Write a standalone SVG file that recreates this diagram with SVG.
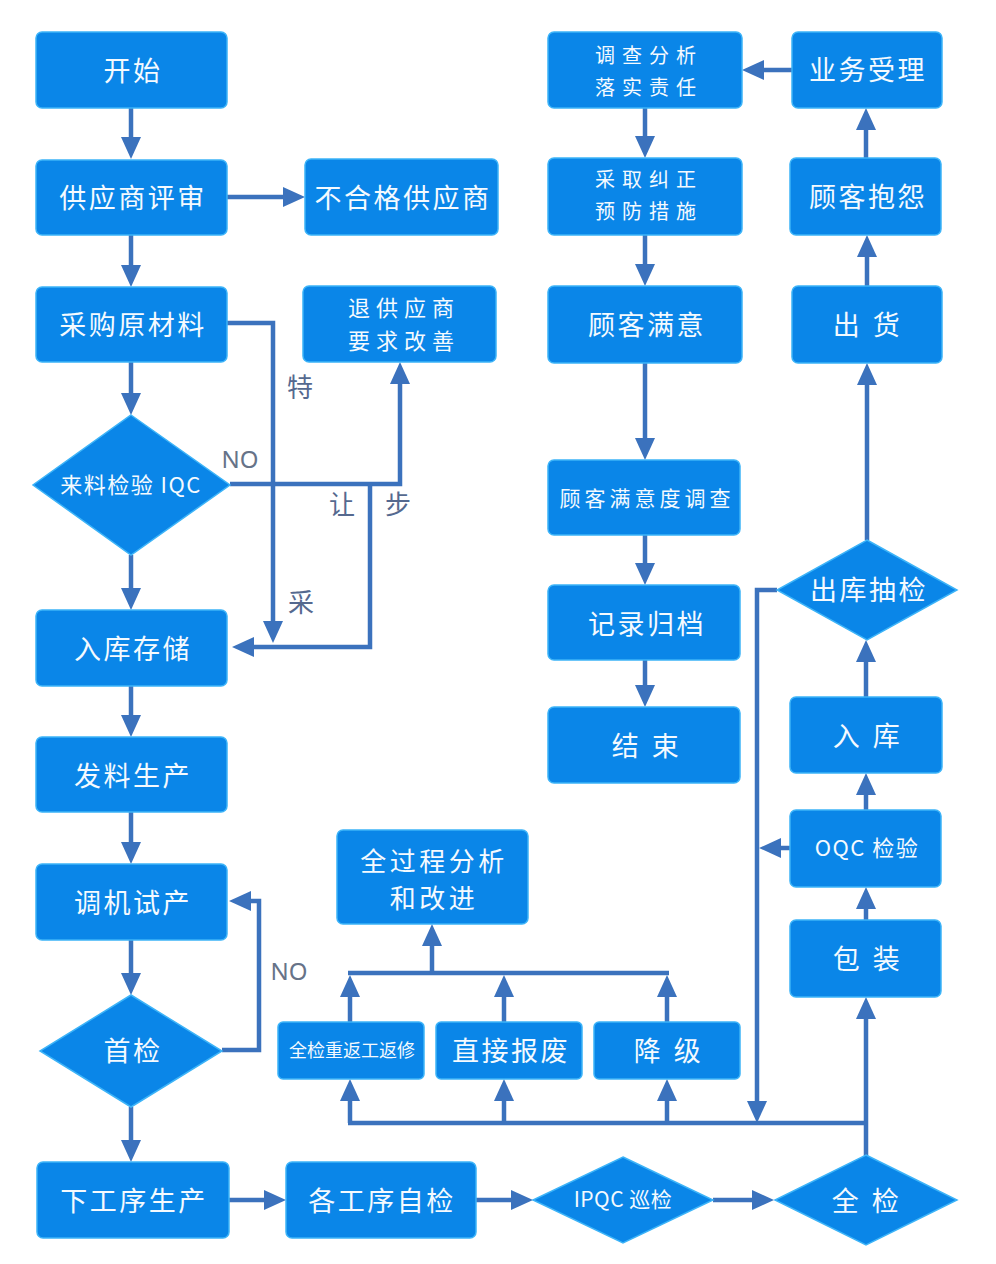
<svg xmlns="http://www.w3.org/2000/svg" width="996" height="1264" viewBox="0 0 996 1264">
<defs>
<marker id="ah" markerUnits="userSpaceOnUse" markerWidth="22" markerHeight="20" refX="10" refY="10" orient="auto">
<path d="M0,0 L22,10 L0,20 z" fill="#3b72bd"/>
</marker>
<style>
.box{fill:#0a86e8;stroke:#3db4f8;stroke-width:1.5}
.t{fill:#f4faff;font-family:"Noto Sans CJK SC","Noto Sans",sans-serif;text-anchor:middle;dominant-baseline:central}
.m{font-size:27px;letter-spacing:2.5px}
.sp{font-size:27px;letter-spacing:3.5px}
.two{font-size:20px;letter-spacing:7px}
.ln{fill:none;stroke:#3b72bd;stroke-width:4.5}
.ar{marker-end:url(#ah)}
.lab{fill:#55698f;font-family:"Noto Sans CJK SC","Noto Sans",sans-serif;font-size:26px;text-anchor:middle;dominant-baseline:central}
.no{fill:#667388;font-family:"Noto Sans","Noto Sans CJK SC",sans-serif;font-size:24px;text-anchor:middle;dominant-baseline:central}
</style>
</defs>
<rect width="996" height="1264" fill="#ffffff"/>

<g id="connectors">
<path class="ln ar" d="M131,108 V147"/>
<path class="ln ar" d="M227,197 H293"/>
<path class="ln ar" d="M131,235 V275"/>
<path class="ln ar" d="M131,362 V403"/>
<path class="ln ar" d="M131,555 V598"/>
<path class="ln ar" d="M131,686 V725"/>
<path class="ln ar" d="M131,812 V852"/>
<path class="ln ar" d="M131,940 V983"/>
<path class="ln ar" d="M131,1107 V1150"/>
<path class="ln ar" d="M222,1050 H259 V901 H241"/>
<path class="ln ar" d="M229,1200 H274"/>
<path class="ln ar" d="M476,1200 H521"/>
<path class="ln ar" d="M713,1200 H762"/>
<path class="ln ar" d="M866,1157 V1009"/>
<path class="ln ar" d="M866,920 V899"/>
<path class="ln ar" d="M866,810 V785"/>
<path class="ln ar" d="M866,697 V652"/>
<path class="ln ar" d="M867,540 V375"/>
<path class="ln ar" d="M867,286 V247"/>
<path class="ln ar" d="M866,158 V120"/>
<path class="ln ar" d="M792,70 H754"/>
<path class="ln ar" d="M645,108 V146"/>
<path class="ln ar" d="M645,235 V274"/>
<path class="ln ar" d="M645,363 V448"/>
<path class="ln ar" d="M645,535 V573"/>
<path class="ln ar" d="M645,660 V695"/>
<path class="ln ar" d="M777,590 H757 V1111"/>
<path class="ln ar" d="M790,848 H771"/>
<path class="ln" d="M866,1123 H348"/>
<path class="ln ar" d="M350,1123 V1091"/>
<path class="ln ar" d="M504,1123 V1091"/>
<path class="ln ar" d="M667,1123 V1091"/>
<path class="ln ar" d="M350,1022 V987"/>
<path class="ln ar" d="M504,1022 V987"/>
<path class="ln ar" d="M667,1022 V987"/>
<path class="ln" d="M348,973 H669"/>
<path class="ln ar" d="M432,973 V936"/>
<path class="ln ar" d="M227,323 H273 V631"/>
<path class="ln ar" d="M230,484 H400 V374"/>
<path class="ln ar" d="M370,484 V647 H244"/>
<text class="lab" x="300" y="385">特</text>
<text class="no" x="240" y="458">NO</text>
<text class="lab" x="342" y="502">让</text>
<text class="lab" x="398" y="502">步</text>
<text class="lab" x="301" y="600">采</text>
<text class="no" x="289" y="970">NO</text>
</g>

<g id="n-start"><rect class="box" x="36" y="32" width="191" height="76" rx="6"/><text class="t m" x="133" y="69">开始</text></g>
<g id="n-review"><rect class="box" x="36" y="160" width="191" height="75" rx="6"/><text class="t m" x="133" y="196">供应商评审</text></g>
<g id="n-unqualified"><rect class="box" x="305" y="159" width="193" height="76" rx="6"/><text class="t m" x="403" y="196">不合格供应商</text></g>
<g id="n-purchase"><rect class="box" x="36" y="287" width="191" height="75" rx="6"/><text class="t m" x="133" y="323">采购原材料</text></g>
<g id="n-return"><rect class="box" x="303" y="286" width="193" height="76" rx="6"/><text class="t" x="404" y="306" style="font-size:22px;letter-spacing:6px">退供应商</text><text class="t" x="404" y="339" style="font-size:22px;letter-spacing:6px">要求改善</text></g>
<g id="n-iqc"><polygon class="box" points="131,415 230,485 131,555 33,485"/><text class="t" x="131" y="483" style="font-size:22px;letter-spacing:1.5px">来料检验 IQC</text></g>
<g id="n-store"><rect class="box" x="36" y="610" width="191" height="76" rx="6"/><text class="t m" x="133" y="647">入库存储</text></g>
<g id="n-issue"><rect class="box" x="36" y="737" width="191" height="75" rx="6"/><text class="t m" x="133" y="774">发料生产</text></g>
<g id="n-trial"><rect class="box" x="36" y="864" width="191" height="76" rx="6"/><text class="t m" x="133" y="901">调机试产</text></g>
<g id="n-first"><polygon class="box" points="131,995 222,1051 131,1107 40,1051"/><text class="t m" x="133" y="1049">首检</text></g>
<g id="n-next"><rect class="box" x="37" y="1162" width="192" height="76" rx="6"/><text class="t m" x="134" y="1199">下工序生产</text></g>
<g id="n-self"><rect class="box" x="286" y="1162" width="190" height="76" rx="6"/><text class="t m" x="382" y="1199">各工序自检</text></g>
<g id="n-ipqc"><polygon class="box" points="623,1157 713,1200 623,1243 533,1200"/><text class="t" x="623" y="1198" style="font-size:21px;letter-spacing:0.5px">IPQC 巡检</text></g>
<g id="n-full"><polygon class="box" points="866,1155 957,1200 866,1245 775,1200"/><text class="t sp" x="867" y="1199">全 检</text></g>
<g id="n-analysis"><rect class="box" x="337" y="830" width="191" height="94" rx="6"/><text class="t" x="434" y="859" style="font-size:26px;letter-spacing:3.5px">全过程分析</text><text class="t" x="434" y="896" style="font-size:26px;letter-spacing:3.5px">和改进</text></g>
<g id="n-rework"><rect class="box" x="278" y="1022" width="146" height="57" rx="5"/><text class="t" x="352" y="1049" style="font-size:18px">全检重返工返修</text></g>
<g id="n-scrap"><rect class="box" x="436" y="1022" width="146" height="57" rx="5"/><text class="t m" x="511" y="1049">直接报废</text></g>
<g id="n-downgrade"><rect class="box" x="594" y="1022" width="146" height="57" rx="5"/><text class="t sp" x="669" y="1049">降 级</text></g>
<g id="n-pack"><rect class="box" x="790" y="920" width="151" height="77" rx="6"/><text class="t sp" x="868" y="957">包 装</text></g>
<g id="n-oqc"><rect class="box" x="790" y="810" width="151" height="77" rx="6"/><text class="t" x="867" y="846" style="font-size:22px;letter-spacing:1.5px">OQC 检验</text></g>
<g id="n-inbound"><rect class="box" x="790" y="697" width="152" height="76" rx="6"/><text class="t sp" x="868" y="734">入 库</text></g>
<g id="n-outcheck"><polygon class="box" points="867,540 957,590 867,640 777,590"/><text class="t m" x="869" y="588">出库抽检</text></g>
<g id="n-ship"><rect class="box" x="792" y="286" width="150" height="77" rx="6"/><text class="t sp" x="868" y="323">出 货</text></g>
<g id="n-complaint"><rect class="box" x="790" y="158" width="151" height="77" rx="6"/><text class="t m" x="868" y="195">顾客抱怨</text></g>
<g id="n-accept"><rect class="box" x="792" y="32" width="150" height="76" rx="6"/><text class="t m" x="868" y="68">业务受理</text></g>
<g id="n-investigate"><rect class="box" x="548" y="32" width="194" height="76" rx="6"/><text class="t two" x="649" y="54">调查分析</text><text class="t two" x="649" y="86">落实责任</text></g>
<g id="n-correct"><rect class="box" x="548" y="158" width="194" height="77" rx="6"/><text class="t two" x="649" y="178">采取纠正</text><text class="t two" x="649" y="210">预防措施</text></g>
<g id="n-satisfied"><rect class="box" x="548" y="286" width="194" height="77" rx="6"/><text class="t m" x="647" y="323">顾客满意</text></g>
<g id="n-survey"><rect class="box" x="548" y="460" width="192" height="75" rx="6"/><text class="t" x="647" y="497" style="font-size:21px;letter-spacing:4px">顾客满意度调查</text></g>
<g id="n-record"><rect class="box" x="548" y="585" width="192" height="75" rx="6"/><text class="t m" x="647" y="622">记录归档</text></g>
<g id="n-end"><rect class="box" x="548" y="707" width="192" height="76" rx="6"/><text class="t sp" x="647" y="744">结 束</text></g>
</svg>
